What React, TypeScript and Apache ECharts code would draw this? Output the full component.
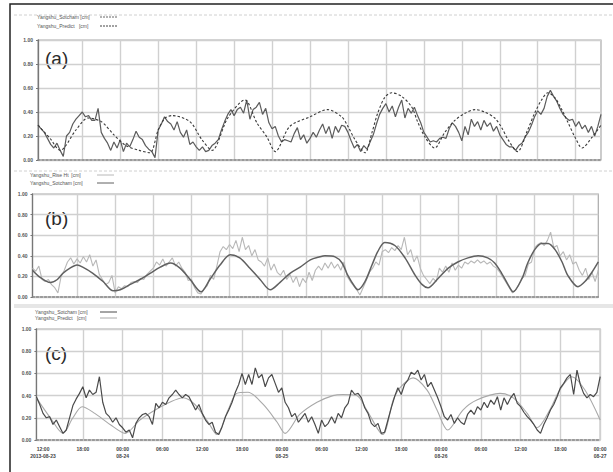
import React, { useEffect, useRef } from "react";
import * as echarts from "echarts";

// time in hours since 2013-08-23 00:00; noisy records every 30 min from 11:00
const START_HOUR = 11;
const STEP_HOURS = 0.5;

// ---- panel (a)
const obsA = [
  0.29, 0.26, 0.23, 0.18, 0.13, 0.10, 0.14, 0.08, 0.03, 0.20,
  0.23, 0.30, 0.34, 0.37, 0.40, 0.36, 0.37, 0.33, 0.33, 0.43,
  0.23, 0.18, 0.14, 0.08, 0.15, 0.10, 0.17, 0.07, 0.14, 0.11,
  0.17, 0.24, 0.19, 0.17, 0.12, 0.09, 0.07, 0.02, 0.25, 0.30,
  0.36, 0.32, 0.30, 0.25, 0.32, 0.23, 0.19, 0.25, 0.13, 0.15,
  0.11, 0.08, 0.11, 0.07, 0.08, 0.12, 0.14, 0.17, 0.25, 0.32,
  0.38, 0.42, 0.37, 0.42, 0.44, 0.39, 0.50, 0.34, 0.42, 0.44,
  0.48, 0.38, 0.43, 0.31, 0.26, 0.28, 0.20, 0.15, 0.17, 0.16,
  0.15, 0.22, 0.27, 0.17, 0.21, 0.14, 0.18, 0.23, 0.19, 0.25,
  0.30, 0.22, 0.28, 0.18, 0.28, 0.23, 0.29, 0.28, 0.23, 0.16,
  0.10, 0.13, 0.07, 0.12, 0.09, 0.15, 0.21, 0.30, 0.38, 0.43,
  0.47, 0.40, 0.45, 0.36, 0.44, 0.50, 0.35, 0.43, 0.39, 0.44,
  0.37, 0.31, 0.23, 0.19, 0.15, 0.16, 0.15, 0.18, 0.19, 0.18,
  0.26, 0.31, 0.28, 0.23, 0.16, 0.28, 0.21, 0.34, 0.28, 0.32,
  0.25, 0.33, 0.28, 0.31, 0.24, 0.28, 0.21, 0.17, 0.13, 0.11,
  0.11, 0.08, 0.12, 0.14, 0.19, 0.23, 0.29, 0.36, 0.41, 0.38,
  0.43, 0.53, 0.58, 0.53, 0.49, 0.43, 0.38, 0.35, 0.33, 0.34,
  0.28, 0.32, 0.26, 0.29, 0.23, 0.28, 0.20, 0.28, 0.38,
];
const predAHours = [
  11.0, 12.9, 14.5, 17.0, 18.9, 21.0, 23.0, 24.9, 27.0, 28.7,
  30.0, 31.1, 32.2, 35.0, 36.9, 38.5, 41.0, 43.7, 45.6, 47.2,
  48.5, 50.8, 54.0, 56.8, 59.0, 60.0, 61.1, 62.7, 63.8, 64.7,
  65.8, 66.9, 68.5, 70.1, 71.0, 72.2, 73.7, 75.3, 76.9, 78.5,
  80.1, 81.6, 83.2, 84.3, 85.3, 86.8, 88.4, 89.5, 90.6, 91.6,
  92.7, 93.8, 94.8, 95.9, 97.0, 98.6, 100.0,
];
const predAValues = [
  0.29, 0.18, 0.08, 0.25, 0.35, 0.32, 0.21, 0.12, 0.08, 0.06,
  0.25, 0.35, 0.37, 0.32, 0.17, 0.08, 0.35, 0.50, 0.31, 0.19,
  0.07, 0.28, 0.36, 0.42, 0.36, 0.28, 0.17, 0.06, 0.23, 0.39,
  0.52, 0.56, 0.53, 0.44, 0.32, 0.19, 0.10, 0.23, 0.33, 0.39,
  0.42, 0.40, 0.35, 0.27, 0.17, 0.07, 0.25, 0.39, 0.50, 0.56,
  0.52, 0.42, 0.31, 0.19, 0.10, 0.19, 0.29,
];

// ---- panel (b)
const obsB = [
  0.28, 0.25, 0.30, 0.17, 0.15, 0.17, 0.12, 0.09, 0.04, 0.20,
  0.26, 0.34, 0.38, 0.32, 0.37, 0.33, 0.39, 0.34, 0.41, 0.30,
  0.36, 0.22, 0.17, 0.12, 0.14, 0.21, 0.04, 0.10, 0.08, 0.11,
  0.10, 0.14, 0.15, 0.14, 0.18, 0.17, 0.22, 0.25, 0.28, 0.34,
  0.31, 0.37, 0.30, 0.34, 0.38, 0.30, 0.34, 0.28, 0.24, 0.16,
  0.17, 0.09, 0.04, 0.03, 0.08, 0.11, 0.21, 0.17, 0.30, 0.44,
  0.49, 0.46, 0.51, 0.47, 0.55, 0.44, 0.58, 0.46, 0.50, 0.40,
  0.46, 0.36, 0.34, 0.30, 0.38, 0.26, 0.32, 0.24, 0.21, 0.26,
  0.17, 0.22, 0.14, 0.20, 0.10, 0.18, 0.14, 0.24, 0.16, 0.26,
  0.30, 0.26, 0.33, 0.28, 0.34, 0.28, 0.32, 0.26, 0.34, 0.20,
  0.15, 0.11, 0.07, 0.02, 0.09, 0.16, 0.24, 0.28, 0.34, 0.31,
  0.44, 0.46, 0.43, 0.48, 0.45, 0.50, 0.46, 0.58, 0.41, 0.46,
  0.34, 0.40, 0.28, 0.21, 0.17, 0.13, 0.18, 0.15, 0.28, 0.24,
  0.30, 0.24, 0.33, 0.26, 0.31, 0.28, 0.34, 0.32, 0.35, 0.33,
  0.36, 0.33, 0.35, 0.32, 0.34, 0.30, 0.28, 0.24, 0.19, 0.14,
  0.09, 0.04, 0.07, 0.12, 0.18, 0.21, 0.32, 0.34, 0.48, 0.51,
  0.53, 0.50, 0.55, 0.63, 0.48, 0.50, 0.40, 0.44, 0.36, 0.41,
  0.32, 0.34, 0.26, 0.21, 0.28, 0.17, 0.24, 0.15, 0.26,
];
const predBHours = [
  11.0, 12.2, 13.8, 14.9, 15.8, 16.9, 18.0, 18.9, 20.5, 22.1,
  23.7, 24.8, 26.3, 27.9, 29.5, 31.1, 32.7, 34.2, 35.8, 37.5,
  38.9, 40.5, 42.1, 43.6, 45.2, 46.8, 48.4, 49.9, 51.5, 53.1,
  54.7, 56.2, 57.0, 58.6, 59.7, 60.6, 61.7, 62.2, 63.3, 64.4,
  65.3, 66.4, 68.0, 69.6, 71.2, 72.3, 73.2, 74.8, 76.4, 77.9,
  79.5, 81.1, 82.6, 83.7, 84.8, 85.8, 86.6, 88.0, 88.9, 90.0,
  91.1, 92.1, 93.2, 94.3, 95.2, 96.8, 97.9, 99.0, 100.0,
];
const predBValues = [
  0.26, 0.19, 0.14, 0.17, 0.23, 0.28, 0.31, 0.29, 0.23, 0.15,
  0.06, 0.07, 0.12, 0.17, 0.23, 0.29, 0.33, 0.28, 0.17, 0.05,
  0.17, 0.31, 0.41, 0.38, 0.28, 0.17, 0.07, 0.14, 0.23, 0.29,
  0.36, 0.39, 0.40, 0.39, 0.33, 0.21, 0.10, 0.07, 0.15, 0.31,
  0.44, 0.53, 0.50, 0.38, 0.21, 0.12, 0.09, 0.18, 0.28, 0.34,
  0.38, 0.40, 0.38, 0.33, 0.23, 0.12, 0.05, 0.18, 0.33, 0.46,
  0.52, 0.52, 0.46, 0.34, 0.21, 0.10, 0.15, 0.24, 0.34,
];

// ---- panel (c)
const obsC = [
  0.39, 0.32, 0.24, 0.20, 0.21, 0.14, 0.18, 0.12, 0.06, 0.09,
  0.20, 0.31, 0.37, 0.42, 0.48, 0.38, 0.45, 0.41, 0.43, 0.57,
  0.34, 0.24, 0.21, 0.16, 0.20, 0.14, 0.11, 0.07, 0.09, 0.02,
  0.15, 0.20, 0.23, 0.24, 0.21, 0.14, 0.33, 0.29, 0.34, 0.32,
  0.38, 0.41, 0.45, 0.41, 0.38, 0.41, 0.39, 0.33, 0.27, 0.32,
  0.24, 0.18, 0.14, 0.16, 0.07, 0.05, 0.12, 0.21, 0.27, 0.34,
  0.43, 0.50, 0.60, 0.50, 0.59, 0.50, 0.65, 0.56, 0.59, 0.48,
  0.56, 0.59, 0.51, 0.43, 0.47, 0.34, 0.29, 0.21, 0.24, 0.16,
  0.20, 0.24, 0.16, 0.21, 0.14, 0.06, 0.18, 0.12, 0.15, 0.21,
  0.15, 0.24, 0.20, 0.29, 0.33, 0.45, 0.41, 0.42, 0.38, 0.29,
  0.24, 0.15, 0.12, 0.15, 0.06, 0.07, 0.18, 0.29, 0.39, 0.47,
  0.41, 0.50, 0.54, 0.61, 0.59, 0.63, 0.54, 0.59, 0.48, 0.52,
  0.45, 0.38, 0.30, 0.21, 0.18, 0.23, 0.15, 0.20, 0.16, 0.14,
  0.23, 0.27, 0.23, 0.30, 0.27, 0.34, 0.29, 0.36, 0.32, 0.39,
  0.27, 0.38, 0.32, 0.38, 0.42, 0.33, 0.30, 0.25, 0.21, 0.18,
  0.14, 0.09, 0.06, 0.14, 0.20, 0.27, 0.32, 0.39, 0.47, 0.51,
  0.56, 0.59, 0.41, 0.63, 0.50, 0.42, 0.38, 0.41, 0.39, 0.43,
  0.57,
];
const predCHours = [
  11.0, 13.1, 15.0, 16.5, 17.9, 19.8, 22.1, 24.4, 26.6, 28.9,
  31.1, 33.1, 34.9, 36.9, 38.2, 39.9, 41.2, 42.9, 45.2, 47.3,
  48.5, 50.7, 53.3, 55.7, 57.2, 59.3, 60.8, 63.2, 64.8, 65.8,
  67.8, 69.9, 71.4, 73.0, 75.3, 77.4, 80.9, 82.9, 85.0, 86.5,
  88.4, 89.9, 91.7, 93.7, 96.0,
];
const predCValues = [
  0.38, 0.20, 0.06, 0.20, 0.30, 0.24, 0.14, 0.06, 0.18, 0.27,
  0.34, 0.38, 0.32, 0.16, 0.05, 0.27, 0.42, 0.43, 0.32, 0.16,
  0.06, 0.23, 0.34, 0.40, 0.41, 0.40, 0.27, 0.05, 0.36, 0.47,
  0.56, 0.45, 0.27, 0.09, 0.27, 0.36, 0.42, 0.38, 0.24, 0.11,
  0.27, 0.45, 0.57, 0.45, 0.18,
];

// ---- ticks
const gridHours = [18, 24, 30, 36, 42, 48, 54, 60, 66, 72, 78, 84, 90, 96];
const labelHoursC = [12, 18, 24, 30, 36, 42, 48, 54, 60, 66, 72, 78, 84, 90, 96];
const Y_MIN = 0;
const Y_MAX = 1;
const Y_STEP = 0.2;

const legendA = ["Yangshu_Sotcham [cm]", "Yangshu_Predict   [cm]"];
const legendB = ["Yangshu_Rise Ht  [cm]", "Yangshu_Sotcham [cm]"];
const legendC = ["Yangshu_Sotcham [cm]", "Yangshu_Predict   [cm]"];

const FONT = "Liberation Sans, Arial, sans-serif";

const obsPairs = (arr: number[]) => arr.map((v, i) => [START_HOUR + i * STEP_HOURS, v]);
const zipPairs = (hs: number[], vs: number[]) => hs.map((h, i) => [h, vs[i]]);

const pad = (n: number) => (n < 10 ? "0" + n : "" + n);
const timeLabel = (h: number) => {
  const hr = Math.round(h);
  const hod = hr % 24;
  const day = 23 + Math.floor(hr / 24);
  let s = pad(hod) + ":00";
  if (hr === 12) s += "\n2013-08-23";
  else if (hod === 0) s += "\n08-" + pad(day);
  return s;
};

const splitStyle = { color: "#d0d0d0", width: 1.4 };

function makeY(gridIndex: number) {
  return {
    gridIndex,
    type: "value",
    min: Y_MIN,
    max: Y_MAX,
    interval: Y_STEP,
    axisLine: { show: true, lineStyle: { color: "#777", width: 1.3 } },
    axisTick: { show: true, length: 2, lineStyle: { color: "#777" } },
    axisLabel: {
      fontSize: 5,
      color: "#555",
      margin: 5,
      fontFamily: FONT,
      fontWeight: "bold",
      formatter: (v: number) => v.toFixed(2),
    },
    splitLine: { show: true, lineStyle: splitStyle },
  };
}

function makeX(gridIndex: number, max: number, labels: boolean) {
  return {
    gridIndex,
    type: "value",
    min: START_HOUR,
    max,
    axisLine: { show: true, onZero: false, lineStyle: { color: "#888", width: 1.6, type: [2, 2] } },
    axisTick: { show: false, customValues: gridHours },
    axisLabel: labels
      ? {
          show: true,
          customValues: labelHoursC,
          fontSize: 5,
          lineHeight: 7,
          color: "#444",
          margin: 5,
          fontFamily: FONT,
          fontWeight: "bold",
          formatter: (v: number) => timeLabel(v),
        }
      : { show: false, customValues: gridHours },
    splitLine: { show: true, lineStyle: splitStyle },
  };
}

function legendGraphics(x: number, y1: number, y2: number, lineX: number, names: string[], styles: any[]) {
  const els: any[] = [];
  [y1, y2].forEach((y, k) => {
    els.push({
      type: "text",
      x,
      y,
      silent: true,
      style: { text: names[k], fontSize: 5, fontFamily: FONT, fill: "#555", textAlign: "left", textVerticalAlign: "middle" },
    });
    els.push({
      type: "line",
      silent: true,
      shape: { x1: lineX, y1: y, x2: lineX + 17, y2: y },
      style: styles[k],
    });
  });
  return els;
}

export default function App() {
  const ref = useRef<HTMLDivElement>(null);
  useEffect(() => {
    if (!ref.current) return;
    const chart = echarts.init(ref.current, undefined, { renderer: "svg" });
    const option: any = {
      animation: false,
      backgroundColor: "#ffffff",
      grid: [
        { left: 38, right: 12, top: 40, height: 120, show: true, borderColor: "#aaa", borderWidth: 1.2 },
        { left: 32.5, right: 14.7, top: 194, height: 103, show: true, borderColor: "#aaa", borderWidth: 1.2 },
        { left: 36.4, right: 12.8, top: 329, height: 111, show: true, borderColor: "#aaa", borderWidth: 1.2 },
      ],
      xAxis: [makeX(0, 100, false), makeX(1, 100, false), makeX(2, 96, true)],
      yAxis: [makeY(0), makeY(1), makeY(2)],
      series: [
        {
          name: legendA[0], type: "line", xAxisIndex: 0, yAxisIndex: 0, symbol: "none",
          data: obsPairs(obsA), lineStyle: { color: "#5c5c5c", width: 1.2 }, z: 3,
        },
        {
          name: legendA[1], type: "line", xAxisIndex: 0, yAxisIndex: 0, symbol: "none", smooth: 0.3,
          data: zipPairs(predAHours, predAValues), lineStyle: { color: "#3a3a3a", width: 1.1, type: [2.5, 2] }, z: 4,
        },
        {
          name: legendB[0], type: "line", xAxisIndex: 1, yAxisIndex: 1, symbol: "none",
          data: obsPairs(obsB), lineStyle: { color: "#b8b8b8", width: 1.1 }, z: 3,
        },
        {
          name: legendB[1], type: "line", xAxisIndex: 1, yAxisIndex: 1, symbol: "none", smooth: 0.3,
          data: zipPairs(predBHours, predBValues), lineStyle: { color: "#606060", width: 1.5 }, z: 4,
        },
        {
          name: legendC[1], type: "line", xAxisIndex: 2, yAxisIndex: 2, symbol: "none", smooth: 0.3,
          data: zipPairs(predCHours, predCValues), lineStyle: { color: "#a8a8a8", width: 1.1 }, z: 3,
        },
        {
          name: legendC[0], type: "line", xAxisIndex: 2, yAxisIndex: 2, symbol: "none",
          data: obsPairs(obsC), lineStyle: { color: "#4a4a4a", width: 1.2 }, z: 4,
        },
      ],
      graphic: [
        { type: "line", silent: true, shape: { x1: 14, y1: 15, x2: 613, y2: 15 }, style: { stroke: "#d0d0d0", lineWidth: 1, lineDash: [3, 2] } },
        { type: "line", silent: true, shape: { x1: 14, y1: 171, x2: 613, y2: 171 }, style: { stroke: "#d0d0d0", lineWidth: 1, lineDash: [3, 2] } },
        { type: "rect", silent: true, shape: { x: 14, y: 304, width: 600, height: 4 }, style: { fill: "#e6e6e6" } },
        { type: "rect", silent: true, shape: { x: 10, y: 4, width: 620, height: 480 }, style: { fill: "none", stroke: "#222", lineWidth: 1.5 } },
        { type: "text", silent: true, x: 45, y: 58, style: { text: "(a)", fontSize: 19, fontFamily: FONT, fill: "#2a2a2a", textVerticalAlign: "middle" } },
        { type: "text", silent: true, x: 45, y: 218, style: { text: "(b)", fontSize: 19, fontFamily: FONT, fill: "#2a2a2a", textVerticalAlign: "middle" } },
        { type: "text", silent: true, x: 45, y: 353, style: { text: "(c)", fontSize: 19, fontFamily: FONT, fill: "#2a2a2a", textVerticalAlign: "middle" } },
        ...legendGraphics(37, 17, 26, 100, legendA, [
          { stroke: "#666", lineWidth: 1, lineDash: [2, 1] },
          { stroke: "#444", lineWidth: 1, lineDash: [2, 1] },
        ]),
        ...legendGraphics(30, 175, 183, 97, legendB, [
          { stroke: "#b8b8b8", lineWidth: 1 },
          { stroke: "#606060", lineWidth: 1 },
        ]),
        ...legendGraphics(35, 312, 318, 100, legendC, [
          { stroke: "#4a4a4a", lineWidth: 1 },
          { stroke: "#a8a8a8", lineWidth: 1 },
        ]),
      ],
    };
    chart.setOption(option);
    return () => chart.dispose();
  }, []);
  return <div ref={ref} style={{ position: "fixed", left: 0, top: 0, width: 613, height: 472 }} />;
}
